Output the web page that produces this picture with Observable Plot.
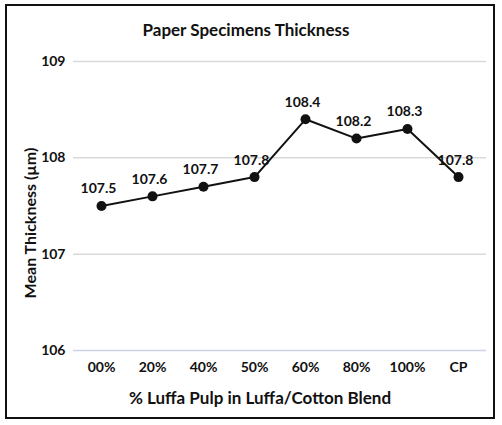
<!DOCTYPE html>
<html lang="en">
<head>
<meta charset="utf-8">
<title>Paper Specimens Thickness</title>
<script src="https://cdn.jsdelivr.net/npm/d3@7"></script>
<script src="https://cdn.jsdelivr.net/npm/@observablehq/plot@0.6"></script>
<style>
  body {
    margin: 0;
    background: #fff;
    font-family: Lato, 'Open Sans', sans-serif;
  }
  #wrap {
    position: relative;
    width: 502px;
    height: 425px;
  }
  #frame {
    position: absolute;
    left: 5px;
    top: 4px;
    width: 486px;
    height: 411px;
    border: 2px solid #111;
  }
  #title {
    position: absolute;
    left: 0;
    width: 492px;
    top: 19px;
    text-align: center;
    font-weight: bold;
    font-size: 17px;
    color: #111;
    margin: 0;
  }
  #graphic {
    position: absolute;
    left: 0;
    top: 0;
  }
</style>
</head>
<body>
<div id="wrap">
  <div id="frame"></div>
  <div id="graphic"></div>
  <h2 id="title">Paper Specimens Thickness</h2>
</div>

<script>
  const blends = ["00%", "20%", "40%", "50%", "60%", "80%", "100%", "CP"];
  const thickness = [107.5, 107.6, 107.7, 107.8, 108.4, 108.2, 108.3, 107.8];
  const yTicks = [106, 107, 108, 109];

  const data = blends.map((b, i) => ({blend: b, value: thickness[i]}));

  const chart = Plot.plot({
    width: 502,
    height: 425,
    marginTop: 61,
    marginBottom: 75,
    marginLeft: 73,
    marginRight: 16,
    style: {fontFamily: "Lato, 'Open Sans', sans-serif", fontSize: "14px", fontWeight: "bold", color: "#111", background: "transparent"},
    x: {type: "point", domain: blends, padding: 0.5},
    y: {domain: [106, 109]},
    marks: [
      Plot.ruleY(yTicks.slice(1), {stroke: "#d9d9d9", strokeWidth: 1.5}),
      Plot.ruleY([106], {stroke: "#c9d3e6", strokeWidth: 1.5}),
      Plot.axisY({ticks: yTicks, tickFormat: d3.format("d"), tickSize: 0, tickPadding: 8, label: null, fontSize: 14}),
      Plot.axisX({tickSize: 0, tickPadding: 12, label: null, fontSize: 14}),
      // axis titles, placed relative to the frame
      Plot.text(["Mean Thickness (µm)"], {frameAnchor: "left", rotate: -90, dx: -43, dy: 17,
        textAnchor: "middle", lineAnchor: "middle", fontSize: 16, fontWeight: "bold", fill: "#111"}),
      Plot.text(["% Luffa Pulp in Luffa/Cotton Blend"], {frameAnchor: "bottom", dx: -20, dy: 48,
        textAnchor: "middle", lineAnchor: "middle", fontSize: 17, fontWeight: "bold", fill: "#111"}),
      Plot.line(data, {x: "blend", y: "value", stroke: "#111", strokeWidth: 2}),
      Plot.dot(data, {x: "blend", y: "value", r: 5, fill: "#111"}),
      Plot.text(data, {x: "blend", y: "value", text: d => d.value.toFixed(1), dy: -17, dx: -3,
        fontSize: 14, fontWeight: "bold", fill: "#111"})
    ]
  });

  document.getElementById("graphic").appendChild(chart);
</script>
</body>
</html>
